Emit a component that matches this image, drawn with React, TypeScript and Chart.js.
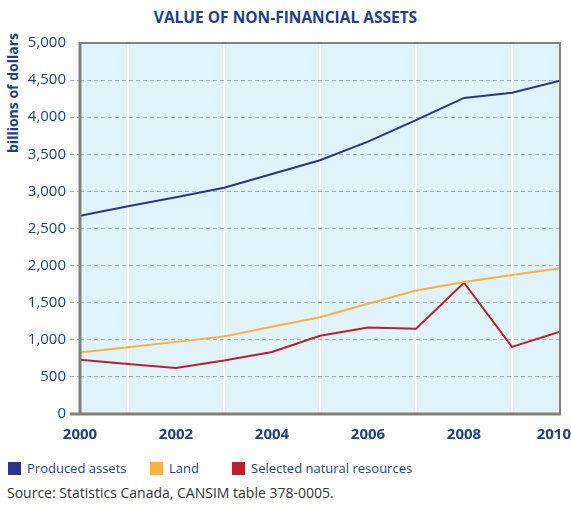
import React, { useEffect, useRef } from "react";
import { Chart, registerables } from "chart.js";

Chart.register(...registerables);

const years = [2000, 2001, 2002, 2003, 2004, 2005, 2006, 2007, 2008, 2009, 2010];
const producedAssets = [2670, 2800, 2920, 3050, 3235, 3420, 3670, 3960, 4260, 4330, 4490];
const land = [830, 900, 972, 1045, 1175, 1305, 1485, 1665, 1780, 1872, 1965];
const naturalResources = [730, 675, 620, 720, 835, 1055, 1165, 1150, 1770, 905, 1110];
const seriesNames = ["Produced assets", "Land", "Selected natural resources"];
const seriesColors = ["#2e3192", "#fbb040", "#be1e2d"];
const title = "VALUE OF NON-FINANCIAL ASSETS";
const yTitle = "billions of dollars";
const source = "Source: Statistics Canada, CANSIM table 378-0005.";

const FONT = '"Open Sans", sans-serif';
const BLUE_TEXT = "#1e3f8c";

const framePlugin = {
  id: "frame",
  beforeDraw(chart: any) {
    const { ctx, chartArea: a } = chart;
    ctx.save();
    ctx.fillStyle = "#e0f2fa";
    ctx.fillRect(a.left, a.top, a.right - a.left, a.bottom - a.top);
    ctx.restore();
  },
  afterDraw(chart: any) {
    const { ctx, chartArea: a } = chart;
    ctx.save();
    ctx.strokeStyle = "#808080";
    ctx.lineWidth = 2;
    ctx.beginPath();
    ctx.moveTo(a.left, a.top);
    ctx.lineTo(a.right, a.top);
    ctx.lineTo(a.right, a.bottom);
    ctx.stroke();
    ctx.lineWidth = 3;
    ctx.beginPath();
    ctx.moveTo(a.left, a.top - 1);
    ctx.lineTo(a.left, a.bottom);
    ctx.lineTo(a.right + 1, a.bottom);
    ctx.moveTo(a.left - 10, a.bottom);
    ctx.lineTo(a.left, a.bottom);
    ctx.stroke();
    // x labels
    const xs = chart.scales.x;
    ctx.font = `bold 15px ${FONT}`;
    ctx.fillStyle = BLUE_TEXT;
    ctx.textAlign = "center";
    ctx.textBaseline = "alphabetic";
    years.forEach((yr) => {
      if (yr % 2 !== 0) return;
      const label = String(yr);
      const w = ctx.measureText(label).width;
      let px = xs.getPixelForValue(yr);
      px = Math.min(px, chart.width - w / 2);
      ctx.fillText(label, px, a.bottom + 25);
    });
    ctx.restore();
  },
};

export default function App() {
  const ref = useRef<HTMLCanvasElement>(null);
  useEffect(() => {
    if (!ref.current) return;
    const mk = (arr: number[]) => years.map((x, i) => ({ x, y: arr[i] }));
    const chart = new Chart(ref.current, {
      type: "line",
      data: {
        datasets: [producedAssets, land, naturalResources].map((arr, i) => ({
          label: seriesNames[i],
          data: mk(arr),
          borderColor: seriesColors[i],
          backgroundColor: seriesColors[i],
          borderWidth: 2,
          pointRadius: 0,
          tension: 0,
        })),
      },
      options: {
        animation: false,
        responsive: false,
        layout: { padding: { top: 43, right: 11, bottom: 36, left: 0 } },
        plugins: { legend: { display: false }, title: { display: false }, tooltip: { enabled: false } },
        scales: {
          x: {
            type: "linear",
            min: 2000,
            max: 2010,
            ticks: { display: false, stepSize: 1 },
            border: { display: false },
            grid: {
              drawTicks: false,
              lineWidth: 2,
              color: (c: any) => (c.tick && c.tick.value % 2 === 1 ? "#ffffff" : "rgba(0,0,0,0)"),
            },
            afterFit: (s: any) => {
              s.height = 0;
              s.paddingLeft = 0;
              s.paddingRight = 0;
            },
          },
          y: {
            min: 0,
            max: 5000,
            ticks: {
              stepSize: 500,
              padding: 4,
              color: BLUE_TEXT,
              font: { family: FONT, size: 15 },
              callback: (v: any) => Number(v).toLocaleString("en-US"),
            },
            border: { display: false, dash: [4, 3] },
            grid: {
              color: (c: any) => (c.tick && (c.tick.value === 0 || c.tick.value === 5000) ? "rgba(0,0,0,0)" : "#a8b3b8"),
              tickColor: (c: any) => (c.tick && c.tick.value === 5000 ? "rgba(0,0,0,0)" : "#a8b3b8"),
              tickBorderDash: [4, 3],
              tickLength: 10,
              lineWidth: 1,
            },
            afterFit: (s: any) => {
              s.width = 80;
            },
          },
        },
      },
      plugins: [framePlugin],
    } as any);
    return () => chart.destroy();
  }, []);

  const legendX = [8, 150, 232];
  return (
    <div style={{ position: "absolute", left: 0, top: 0, width: 571, height: 506, overflow: "hidden", background: "#fff", fontFamily: FONT }}>
      <div style={{ position: "absolute", left: 0, top: 6, width: 571, textAlign: "center", fontWeight: 700, fontSize: 15.5, color: BLUE_TEXT, whiteSpace: "nowrap", lineHeight: "22px" }}>
        {title}
      </div>
      <div style={{ position: "absolute", left: 13, top: 93, transform: "translate(-50%, -50%) rotate(-90deg)", fontWeight: 700, fontSize: 14, color: BLUE_TEXT, whiteSpace: "nowrap", lineHeight: "16px" }}>
        {yTitle}
      </div>
      <canvas ref={ref} width={571} height={450} style={{ position: "absolute", left: 0, top: 0, width: 571, height: 450, display: "block" }} />
      {seriesNames.map((n, i) => (
        <div key={n} style={{ position: "absolute", left: legendX[i], top: 460, height: 16, display: "flex", alignItems: "center", whiteSpace: "nowrap" }}>
          <span style={{ display: "inline-block", width: 13, height: 13, background: seriesColors[i], marginRight: 6 }} />
          <span style={{ fontSize: 13, color: BLUE_TEXT, lineHeight: "16px" }}>{n}</span>
        </div>
      ))}
      <div style={{ position: "absolute", left: 7, top: 484, fontSize: 14, color: "#333", whiteSpace: "nowrap", lineHeight: "18px" }}>
        {source}
      </div>
    </div>
  );
}
